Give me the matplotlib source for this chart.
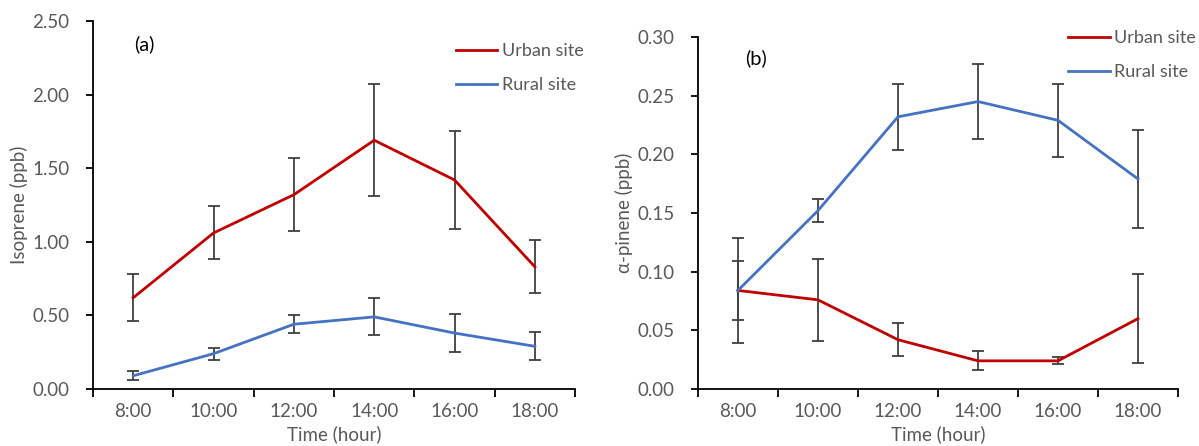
import numpy as np
import matplotlib
matplotlib.use("Agg")
import matplotlib.pyplot as plt

plt.rcParams['font.family'] = ['Lato', 'DejaVu Sans']

times = ["8:00", "10:00", "12:00", "14:00", "16:00", "18:00"]

# (a) isoprene
iso_urban = [0.62, 1.06, 1.32, 1.69, 1.42, 0.83]
iso_urban_err = [0.16, 0.18, 0.25, 0.38, 0.33, 0.18]
iso_rural = [0.09, 0.24, 0.44, 0.49, 0.38, 0.29]
iso_rural_err = [0.03, 0.04, 0.06, 0.125, 0.13, 0.095]

# (b) alpha-pinene
pin_urban = [0.084, 0.076, 0.042, 0.024, 0.024, 0.060]
pin_urban_err = [0.045, 0.035, 0.014, 0.008, 0.003, 0.038]
pin_rural = [0.084, 0.152, 0.232, 0.245, 0.229, 0.179]
pin_rural_err = [0.025, 0.010, 0.028, 0.032, 0.031, 0.042]

red = '#C00000'
blue = '#4472C4'
grey = '#595959'
ebar = '#404040'


def panel(ax, urban, urban_err, rural, rural_err, ymax, step, ylabel, tag, tagpos, legpos):
    x = np.arange(len(times))
    ax.errorbar(x, urban, yerr=urban_err, color=red, lw=2, ecolor=ebar,
                elinewidth=1.3, capsize=4, capthick=1.3, label='Urban site', zorder=3)
    ax.errorbar(x, rural, yerr=rural_err, color=blue, lw=2, ecolor=ebar,
                elinewidth=1.3, capsize=4, capthick=1.3, label='Rural site', zorder=3)
    ax.set_xlim(-0.5, len(times) - 0.5)
    ax.set_ylim(0, ymax)
    ax.set_yticks(np.arange(0, ymax + step / 2, step))
    ax.yaxis.set_major_formatter(matplotlib.ticker.FormatStrFormatter('%.2f'))
    ax.set_xticks(np.arange(-0.5, len(times), 1))
    ax.set_xticklabels([])
    ax.set_xticks(x, minor=True)
    ax.set_xticklabels(times, minor=True)
    ax.tick_params(axis='x', which='major', length=6, width=1.3, direction='out')
    ax.tick_params(axis='x', which='minor', length=0, pad=10, labelsize=13.5, labelcolor=grey)
    ax.tick_params(axis='y', length=5, width=1.3, pad=12, labelsize=13.5, labelcolor=grey)
    for s in ['top', 'right']:
        ax.spines[s].set_visible(False)
    for s in ['left', 'bottom']:
        ax.spines[s].set_linewidth(1.3)
    ax.set_ylabel(ylabel, fontsize=13.5, color=grey, labelpad=3)
    ax.set_xlabel('Time (hour)', fontsize=13.5, color=grey, labelpad=4)
    ax.text(tagpos[0], tagpos[1], tag, transform=ax.transAxes, fontsize=14.5,
            va='center', ha='left')
    handles, labels = ax.get_legend_handles_labels()
    handles = [h[0] for h in handles]
    ax.legend(handles, labels, loc='upper left', bbox_to_anchor=legpos, frameon=False,
              borderpad=0, borderaxespad=0, handlelength=2.3, handletextpad=0.25,
              labelspacing=1.0, fontsize=13, labelcolor=grey)


fig = plt.figure(figsize=(11.99, 4.46), dpi=100)
ax1 = fig.add_axes([0.0776, 0.1278, 0.402, 0.8251])
ax2 = fig.add_axes([0.5821, 0.1278, 0.4004, 0.7892])

panel(ax1, iso_urban, iso_urban_err, iso_rural, iso_rural_err, 2.5, 0.5,
      'Isoprene (ppb)', '(a)', (0.085, 0.937), (0.752, 0.94))
panel(ax2, pin_urban, pin_urban_err, pin_rural, pin_rural_err, 0.30, 0.05,
      '\u03b1-pinene (ppb)', '(b)', (0.098, 0.94), (0.771, 1.02))

fig.savefig('out.png', dpi=100)
